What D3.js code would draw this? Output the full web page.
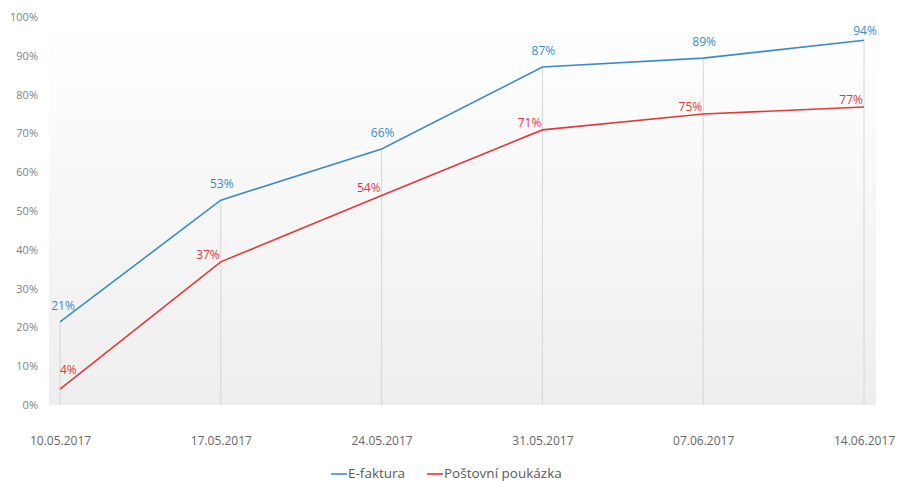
<!DOCTYPE html>
<html>
<head>
<meta charset="utf-8">
<script src="https://cdn.jsdelivr.net/npm/d3@7"></script>
<style>
  body { margin: 0; background: #fff; }
  svg { display: block; font-family: 'Open Sans', sans-serif; }
</style>
</head>
<body>
<svg id="chart" width="898" height="481"></svg>
<script>
// chart data
const dates = ['10.05.2017', '17.05.2017', '24.05.2017', '31.05.2017', '07.06.2017', '14.06.2017'];
const eFaktura = [0.214, 0.528, 0.66, 0.871, 0.894, 0.94];
const postovni = [0.041, 0.369, 0.54, 0.709, 0.75, 0.768];
const yTicks = [0, 0.1, 0.2, 0.3, 0.4, 0.5, 0.6, 0.7, 0.8, 0.9, 1];
const seriesNames = ['E-faktura', 'Poštovní poukázka'];
const seriesColors = ['#3b8cc4', '#e0383c'];

(function() {
  let svg = d3.select('#chart');

  let plotLeft = 49, plotRight = 876, plotTop = 17, plotBottom = 405;

  let x = d3.scalePoint().domain(dates).range([60, 864]);
  let y = d3.scaleLinear().domain([0, 1]).range([plotBottom, plotTop]);

  // plot area gradient background
  let defs = svg.append('defs');
  let grad = defs.append('linearGradient')
    .attr('id', 'bg')
    .attr('x1', 0).attr('y1', 0).attr('x2', 0).attr('y2', 1);
  grad.append('stop').attr('offset', '0%').attr('stop-color', '#ffffff');
  grad.append('stop').attr('offset', '100%').attr('stop-color', '#eeeeee');

  svg.append('rect')
    .attr('x', plotLeft)
    .attr('y', plotTop)
    .attr('width', plotRight - plotLeft)
    .attr('height', plotBottom - plotTop)
    .attr('fill', 'url(#bg)');

  //
  // y axis labels
  //
  let yAxis = d3.axisLeft(y)
    .tickValues(yTicks)
    .tickFormat(d3.format('.0%'))
    .tickSize(0)
    .tickPadding(0);
  let yg = svg.append('g')
    .attr('transform', 'translate(38,0)')
    .call(yAxis);
  yg.select('.domain').remove();
  yg.selectAll('text')
    .attr('fill', '#7f7f7f')
    .style('font-size', '11px')
    .style('font-family', 'Open Sans, sans-serif');

  //
  // x axis labels
  //
  let xAxis = d3.axisBottom(x).tickSize(0).tickPadding(0);
  let xg = svg.append('g')
    .attr('transform', 'translate(0,436)')
    .call(xAxis);
  xg.select('.domain').remove();
  xg.selectAll('text')
    .attr('fill', '#666666')
    .style('font-size', '12px')
    .style('font-family', 'Open Sans, sans-serif');

  //
  // drop lines from the top series to the bottom
  //
  svg.append('g').selectAll('line')
    .data(dates)
    .enter().append('line')
      .attr('x1', (d) => x(d))
      .attr('x2', (d) => x(d))
      .attr('y1', (d, i) => y(Math.max(eFaktura[i], postovni[i])))
      .attr('y2', plotBottom)
      .attr('stroke', '#d6d6d6')
      .attr('stroke-width', 1);

  //
  // series lines
  //
  let series = [eFaktura, postovni];
  let line = d3.line()
    .x((d, i) => x(dates[i]))
    .y((d) => y(d));

  series.forEach((values, s) => {
    svg.append('path')
      .datum(values)
      .attr('d', line)
      .attr('fill', 'none')
      .attr('stroke', seriesColors[s])
      .attr('stroke-width', 1.6);
  });

  //
  // data labels
  //
  let fmt = (v) => Math.round(v * 100) + '%';

  // blue labels sit centred above the point (pushed down near the top edge)
  svg.append('g').selectAll('text')
    .data(eFaktura)
    .enter().append('text')
      .attr('x', (d, i) => x(dates[i]) + (i === 0 ? 3 : 1))
      .attr('y', (d) => Math.max(y(d) - 12, 35))
      .attr('text-anchor', 'middle')
      .attr('fill', seriesColors[0])
      .style('font-size', '12px')
      .text(fmt);

  // red labels sit to the upper left, except the first one
  svg.append('g').selectAll('text')
    .data(postovni)
    .enter().append('text')
      .attr('x', (d, i) => i === 0 ? x(dates[i]) : x(dates[i]) - 1)
      .attr('y', (d, i) => i === 0 ? y(d) - 15 : y(d) - 3)
      .attr('text-anchor', (d, i) => i === 0 ? 'start' : 'end')
      .attr('fill', seriesColors[1])
      .style('font-size', '12px')
      .text(fmt);

  //
  // legend
  //
  let legend = svg.append('g').attr('transform', 'translate(331,474)');
  let legendX = [0, 96];
  seriesNames.forEach((name, s) => {
    let g = legend.append('g').attr('transform', `translate(${legendX[s]},0)`);
    g.append('line')
      .attr('x1', 0).attr('x2', 16)
      .attr('y1', 0).attr('y2', 0)
      .attr('stroke', seriesColors[s])
      .attr('stroke-width', 1.6);
    g.append('text')
      .attr('x', 17)
      .attr('y', 4)
      .attr('fill', '#595959')
      .style('font-size', '13.5px')
      .text(name);
  });
})();
</script>
</body>
</html>
